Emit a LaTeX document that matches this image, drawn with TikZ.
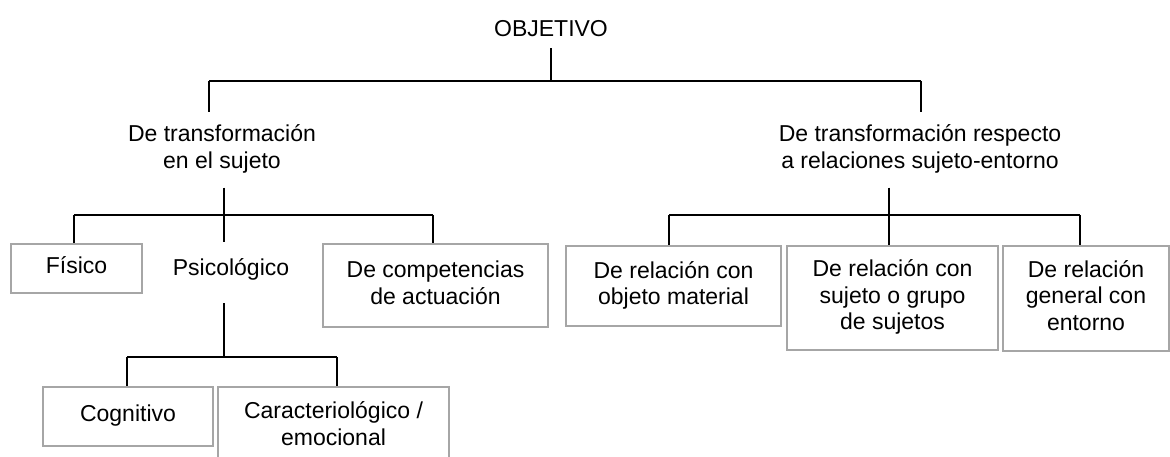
\documentclass[tikz,border=0pt]{standalone}
\usepackage{fontspec}
\setmainfont{Liberation Sans}
\definecolor{boxgray}{HTML}{A6A6A6}
\begin{document}
\begin{tikzpicture}[x=1pt,y={(0pt,-1pt)},
  txt/.style={align=center,inner xsep=0pt,font=\fontsize{23}{26.5}\selectfont},
  bx/.style={draw=boxgray,line width=2pt,align=center,inner sep=0pt,font=\fontsize{23}{26.5}\selectfont},
  conn/.style={line width=1.6pt,black}]
\clip (0,0) rectangle (1170,457);
% text nodes
\node[txt,inner ysep=3pt] (obj) at (551,31.7) {\strut OBJETIVO};
\node[txt,inner ysep=11pt] (lm) at (222,149.95) {\strut De transformación\\\strut en el sujeto};
\node[txt,inner ysep=11pt] (rm) at (920,149.95) {\strut De transformación respecto\\\strut a relaciones sujeto-entorno};
\node[txt,inner ysep=15pt] (psic) at (231,270.7) {\strut Psicológico};
% boxes
\node[bx,minimum width=131pt,minimum height=49pt] (fis) at (76.5,268.5) {\strut Físico};
\node[bx,minimum width=225pt,minimum height=83pt] (comp) at (435.5,285.5) {\strut De competencias\\\strut de actuación};
\node[bx,minimum width=170pt,minimum height=59pt] (cog) at (128,416.5) {\strut Cognitivo};
\node[bx,minimum width=231pt,minimum height=79pt] (car) at (333.5,426.5) {\strut Caracteriológico /\\\strut emocional};
\node[bx,minimum width=215pt,minimum height=80pt] (r1) at (673.5,286) {\strut De relación con\\\strut objeto material};
\node[bx,minimum width=211pt,minimum height=104pt] (r2) at (892.5,298) {\strut De relación con\\\strut sujeto o grupo\\\strut de sujetos};
\node[bx,minimum width=166pt,minimum height=105pt] (r3) at (1086,298.5) {\strut De relación\\\strut general con\\\strut entorno};
% junction coordinates
\coordinate (j0) at (551,81);
\coordinate (jl) at (209,81);
\coordinate (jr) at (921,81);
\coordinate (lj) at (224,215);
\coordinate (lb1) at (74,215);
\coordinate (lb2) at (433,215);
\coordinate (pj) at (224,357);
\coordinate (pb1) at (127,357);
\coordinate (pb2) at (337,357);
\coordinate (rj) at (889,215);
\coordinate (rb1) at (669,215);
\coordinate (rb2) at (1080,215);
% connectors
\draw[conn] (obj.south) -- (j0);
\draw[conn] (jl) -- (jr);
\draw[conn] (jl) -- (jl |- lm.north);
\draw[conn] (jr) -- (jr |- rm.north);
\draw[conn] (lm.south -| lj) -- (lj |- psic.north);
\draw[conn] (lb1) -- (lb2);
\draw[conn] (lb1) -- (lb1 |- fis.north);
\draw[conn] (lb2) -- (lb2 |- comp.north);
\draw[conn,shorten <=4pt] (psic.south -| pj) -- (pj);
\draw[conn] (pb1) -- (pb2);
\draw[conn] (pb1) -- (pb1 |- cog.north);
\draw[conn] (pb2) -- (pb2 |- car.north);
\draw[conn] (rm.south -| rj) -- (rj |- r2.north);
\draw[conn] (rb1) -- (rb2);
\draw[conn] (rb1) -- (rb1 |- r1.north);
\draw[conn] (rb2) -- (rb2 |- r3.north);
\end{tikzpicture}
\end{document}
